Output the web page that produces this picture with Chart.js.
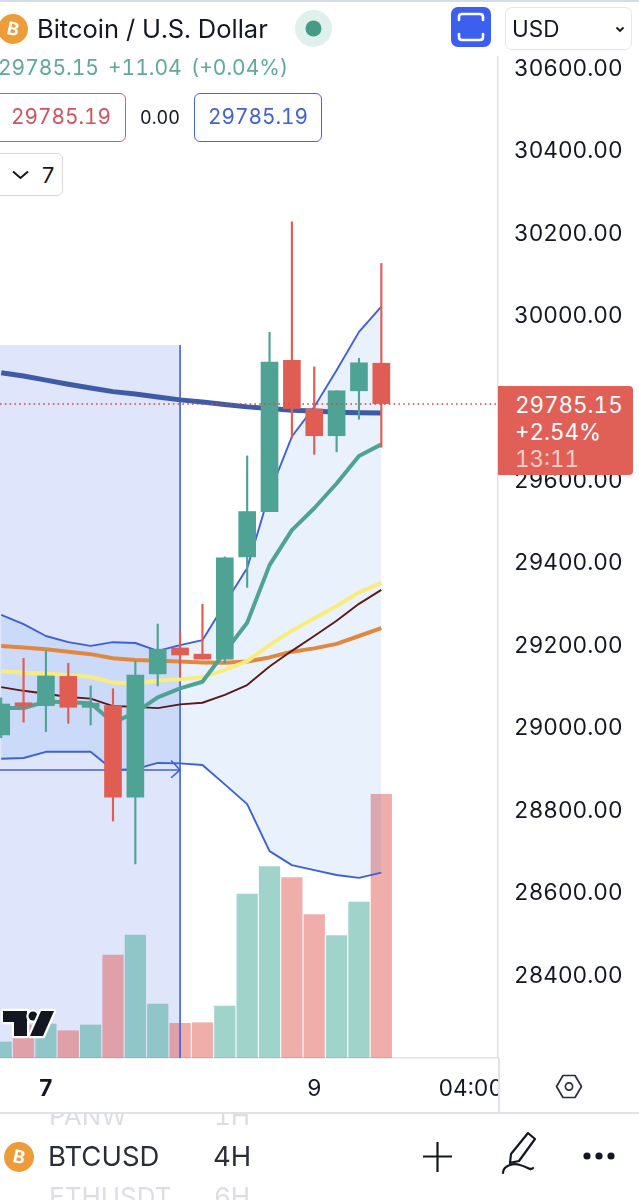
<!DOCTYPE html>
<html>
<head>
<meta charset="utf-8">
<title>BTCUSD</title>
<script src="https://cdn.jsdelivr.net/npm/chart.js@4"></script>
<style>
html, body { margin: 0; padding: 0; background: #fff; }
#wrap { position: relative; width: 639px; height: 1200px; overflow: hidden; font-family: Inter, "Noto Sans", sans-serif; color: #131722; font-variant-numeric: tabular-nums; font-feature-settings: "tnum"; }
#chart { position: absolute; left: 0; top: 0; }
.abs { position: absolute; white-space: nowrap; line-height: 1; }
.box { position: absolute; box-sizing: border-box; border-radius: 6px; background: #fff; }
svg { position: absolute; overflow: visible; }
</style>
</head>
<body>
<div id="wrap">
  <canvas id="chart" width="639" height="1200"></canvas>

  <!-- header -->
  <div class="abs" style="left:0;top:0;width:639px;height:2px;background:#d3dee5"></div>
  <svg style="left:0;top:0" width="30" height="50">
    <circle cx="13" cy="29" r="15" fill="#ee9c39"/>
  </svg>
  <div class="abs" style="left:7px;top:20px;font-size:18px;font-weight:700;color:#fff;transform:rotate(12deg)">B</div>
  <div class="abs" style="left:37px;top:16px;font-size:25.5px;">Bitcoin / U.S. Dollar</div>
  <svg style="left:290px;top:4px" width="50" height="50">
    <ellipse cx="23.5" cy="24.5" rx="18.5" ry="18.5" fill="#e0f0ec"/>
    <circle cx="23.5" cy="24.5" r="8" fill="#459c86"/>
  </svg>
  <div class="box" style="left:451px;top:7px;width:40px;height:40px;background:#3c5ff0;border-radius:7px"></div>
  <svg style="left:451px;top:7px" width="40" height="40" fill="none" stroke="#fff" stroke-width="2.6" stroke-linecap="round">
    <path d="M8 13 V10 Q8 7 11 7 H29 Q32 7 32 10 V13"/>
    <path d="M8 27 V30 Q8 33 11 33 H29 Q32 33 32 30 V27"/>
  </svg>
  <div class="box" style="left:505px;top:7px;width:127px;height:43px;border:1.5px solid #e3e6ea;border-radius:7px"></div>
  <div class="abs" style="left:512px;top:18px;font-size:22.5px;">USD</div>
  <svg style="left:615px;top:26px" width="12" height="8" fill="none" stroke="#131722" stroke-width="1.8">
    <path d="M1.5 1.5 L5 5 L8.5 1.5"/>
  </svg>
  <div class="abs" style="left:-2px;top:57px;font-size:21px;color:#5fa99b;">29785.15</div>
  <div class="abs" style="left:108px;top:57px;font-size:21px;color:#5fa99b;">+11.04</div>
  <div class="abs" style="left:191px;top:57px;font-size:21px;color:#5fa99b;">(+0.04%)</div>

  <div class="box" style="left:-8px;top:93px;width:134px;height:49px;border:1.5px solid #d2606a"></div>
  <div class="abs" style="left:11px;top:107px;font-size:20.8px;color:#cf5460;">29785.19</div>
  <div class="abs" style="left:140px;top:109px;font-size:18px;">0.00</div>
  <div class="box" style="left:194px;top:93px;width:128px;height:49px;border:1.5px solid #4565d6"></div>
  <div class="abs" style="left:208px;top:107px;font-size:20.8px;color:#4262d4;">29785.19</div>
  <div class="box" style="left:-8px;top:153px;width:71px;height:43px;border:1.5px solid #d6d8dc"></div>
  <svg style="left:12px;top:170px" width="18" height="10" fill="none" stroke="#131722" stroke-width="2">
    <path d="M1 1.5 L8.5 8 L16 1.5"/>
  </svg>
  <div class="abs" style="left:41px;top:164px;font-size:22px;">7</div>

  <!-- TradingView mark -->
  <svg style="left:0;top:1005px" width="60" height="36">
    <g fill="#131722" stroke="#fff" stroke-width="4.5" paint-order="stroke" stroke-linejoin="round">
      <path d="M3 6 H27 V31 H14 V17 H3 Z"/>
      <circle cx="33" cy="11" r="4.5"/>
      <path d="M41 6 H54 L43 31 H30 Z"/>
    </g>
  </svg>

  <!-- last price tag -->
  <div class="box" style="left:498px;top:386px;width:135px;height:89px;background:#e05f57;border-radius:0 4px 4px 0"></div>
  <div class="abs" style="left:515px;top:394px;font-size:22.4px;color:#fff;">29785.15</div>
  <div class="abs" style="left:515px;top:421px;font-size:22.4px;color:#fff;">+2.54%</div>
  <div class="abs" style="left:515px;top:448px;font-size:22.4px;color:#f8cfca;">13:11</div>

  <!-- lower right corner of the axes -->
  <div class="abs" style="left:499px;top:1060px;width:140px;height:52px;background:#fff"></div>
  <div class="abs" style="left:498px;top:1058px;width:1.5px;height:54px;background:#dfe2e6"></div>
  <svg style="left:555px;top:1072px" width="28" height="30" fill="none" stroke="#2a2e39" stroke-width="1.7">
    <path d="M1.5 14.5 L8 3.5 H20 L26.5 14.5 L20 25.5 H8 Z" stroke-linejoin="round"/>
    <circle cx="14" cy="14.5" r="3.6"/>
  </svg>

  <!-- footer -->
  <div class="abs" style="left:0;top:1112px;width:639px;height:1.5px;background:#dfe2e6"></div>
  <div class="abs" style="left:0;top:1113.5px;width:639px;height:86.5px;overflow:hidden">
    <div class="abs" style="left:49px;top:-11px;font-size:26px;color:#dcdee3;">PANW</div>
    <div class="abs" style="left:214px;top:-11px;font-size:26px;color:#dcdee3;">1H</div>
    <div class="abs" style="left:49px;top:70px;font-size:26px;color:#dcdee3;">ETHUSDT</div>
    <div class="abs" style="left:214px;top:70px;font-size:26px;color:#dcdee3;">6H</div>
    <svg style="left:0;top:0" width="40" height="80">
      <circle cx="19" cy="43" r="15" fill="#ee9c39"/>
    </svg>
    <div class="abs" style="left:13px;top:34px;font-size:18px;font-weight:700;color:#fff;transform:rotate(12deg)">B</div>
    <div class="abs" style="left:48px;top:29px;font-size:27.5px;color:#2a2e39;">BTCUSD</div>
    <div class="abs" style="left:213px;top:29px;font-size:27.5px;color:#2a2e39;">4H</div>
    <svg style="left:420px;top:25px" width="36" height="36" fill="none" stroke="#131722" stroke-width="2.2">
      <path d="M17.5 3 V33 M3 17.5 H32"/>
    </svg>
    <svg style="left:500px;top:17px" width="40" height="50" fill="none" stroke="#131722" stroke-width="2.2" stroke-linejoin="round" stroke-linecap="round">
      <path d="M28 2 L35 8 L19 30 L10 32 L11 23 Z"/>
      <path d="M3 42 C3 34 14 32 20 34 C28 36 30 40 33 37"/>
    </svg>
    <svg style="left:582px;top:35px" width="36" height="14" fill="#131722">
      <circle cx="5" cy="7" r="3.6"/><circle cx="17" cy="7" r="3.6"/><circle cx="29" cy="7" r="3.6"/>
    </svg>
  </div>
</div>

<script>
// --------------------------------------
// Data (4H BTCUSD)
// --------------------------------------
const barIndex = [0, 1, 2, 3, 4, 5, 6, 7, 8, 9, 10, 11, 12, 13, 14, 15, 16, 17];
const opens  = [28982, 29060, 29053, 29124, 29049, 29053, 28831, 29130, 29193, 29178, 29166, 29414, 29524, 29891, 29773, 29708, 29817, 29884];
const closes = [29057, 29052, 29125, 29049, 29059, 28831, 29127, 29190, 29176, 29166, 29412, 29524, 29887, 29774, 29708, 29817, 29885, 29786];
const highs  = [29072, 29168, 29186, 29156, 29101, 29094, 29160, 29251, 29232, 29299, 29414, 29659, 29959, 30227, 29875, 29817, 29896, 30126];
const lows   = [28975, 29013, 28990, 29010, 29006, 28773, 28669, 29101, 29122, 29166, 29156, 29340, 29524, 29702, 29663, 29669, 29748, 29680];
const volumes = [160, 330, 340, 273, 330, 1030, 1230, 540, 347, 353, 520, 1640, 1913, 1803, 1433, 1223, 1560, 2637];

const upperBand = [29273, 29251, 29222, 29207, 29198, 29207, 29205, 29186, 29200, 29212, 29300, 29387, 29569, 29706, 29778, 29867, 29960, 30021];
const lowerBand = [28924, 28926, 28941, 28941, 28941, 28897, 28899, 28914, 28913, 28909, 28862, 28814, 28700, 28666, 28654, 28642, 28635, 28648];
const greenMa   = [29047, 29047, 29063, 29061, 29059, 29012, 29036, 29073, 29095, 29111, 29183, 29254, 29394, 29479, 29532, 29592, 29659, 29687];
const yellowMa  = [29137, 29133, 29131, 29127, 29123, 29109, 29107, 29114, 29117, 29122, 29140, 29161, 29200, 29235, 29265, 29295, 29328, 29351];
const orangeMa  = [29198, 29194, 29190, 29184, 29178, 29168, 29164, 29162, 29160, 29158, 29157, 29160, 29170, 29184, 29192, 29203, 29222, 29241];
const maroonMa  = [29098, 29089, 29082, 29074, 29070, 29052, 29050, 29047, 29056, 29060, 29079, 29103, 29148, 29186, 29222, 29259, 29300, 29334];
const navyMa    = [29861, 29853, 29843, 29833, 29824, 29815, 29809, 29802, 29795, 29790, 29784, 29778, 29774, 29770, 29768, 29765, 29764, 29763];

const lastPrice = 29785.15;
const priceTicks = [28400, 28600, 28800, 29000, 29200, 29400, 29600, 29800, 30000, 30200, 30400, 30600];
const timeTickValues = [2, 14, 21];
const timeTickLabels = ["7", "9", "04:00"];

// date range drawing: bars 0..8, top price, arrow price
const rangeEnd = 8;
const rangeTop = 29928;
const rangeArrow = 28897;
const arrowHeadX = [7.6, 8, 7.6];
const arrowHeadY = [28920, 28897, 28878];

const xMin = -0.054, xMax = 22.218;
const yMin = 28198, yMax = 30627;
const volumeMax = 10010;

const GREEN = "#4fa395", RED = "#e05d54", BLUE = "#3f5fd8";

// --------------------------------------
// Helpers
// --------------------------------------
function series(values) {
    return values.map((v, i) => ({ x: barIndex[i], y: v }));
}

function candleColors() {
    return closes.map((c, i) => (c >= opens[i] ? GREEN : RED));
}

function lineSet(values, color, width, order, extra) {
    return Object.assign({
        type: "line", data: series(values), borderColor: color, borderWidth: width,
        pointRadius: 0, tension: 0, fill: false, order: order, yAxisID: "y",
        borderJoinStyle: "round", borderCapStyle: "butt"
    }, extra || {});
}

// --------------------------------------
// Chart
// --------------------------------------
const datasets = [
    // bollinger fill needs the lower band right after the upper one
    lineSet(upperBand, BLUE, 1.9, 9, { fill: "+1", backgroundColor: "rgba(33,120,230,0.1)" }),
    lineSet(lowerBand, BLUE, 1.9, 9),
    lineSet(navyMa, "#3d5ba6", 5, 8),
    lineSet(orangeMa, "#e0883f", 4, 7),
    lineSet(maroonMa, "#5a1a1a", 1.9, 6),
    lineSet(yellowMa, "#f9ec7e", 4, 5),
    lineSet(greenMa, "#4fa395", 4, 4),
    {
        type: "bar", data: series(volumes), yAxisID: "y1", order: 12, barThickness: 20.6,
        backgroundColor: closes.map((c, i) => (c >= opens[i] ? "rgba(66,168,150,0.5)" : "rgba(224,85,80,0.48)"))
    },
    {
        type: "line", order: 20, yAxisID: "y", pointRadius: 0, borderWidth: 0,
        data: [{ x: xMin, y: rangeTop }, { x: rangeEnd, y: rangeTop }],
        fill: { target: { value: yMin } }, backgroundColor: "rgba(55,95,230,0.16)"
    },
    {
        type: "line", order: 10, yAxisID: "y", pointRadius: 0, borderWidth: 1.6, borderColor: BLUE,
        data: [{ x: rangeEnd, y: yMin }, { x: rangeEnd, y: rangeTop }]
    },
    {
        type: "line", order: 10, yAxisID: "y", pointRadius: 0, borderWidth: 1.6, borderColor: BLUE,
        data: [{ x: xMin, y: rangeArrow }, { x: rangeEnd, y: rangeArrow }]
    },
    {
        type: "line", order: 10, yAxisID: "y", pointRadius: 0, borderWidth: 1.6, borderColor: BLUE,
        data: arrowHeadX.map((x, i) => ({ x: x, y: arrowHeadY[i] }))
    },
    {
        type: "bar", order: 3, yAxisID: "y", barThickness: 1.5, backgroundColor: candleColors(),
        data: barIndex.map((x, i) => ({ x: x, y: [lows[i], highs[i]] }))
    },
    {
        type: "bar", order: 2, yAxisID: "y", barThickness: 17, backgroundColor: candleColors(),
        data: barIndex.map((x, i) => ({ x: x, y: [opens[i], closes[i]] }))
    },
    {
        type: "line", order: 1, yAxisID: "y", pointRadius: 0, borderWidth: 1.5, borderColor: "#d9463f",
        borderDash: [1.6, 3.2],
        data: [{ x: xMin, y: lastPrice }, { x: xMax, y: lastPrice }]
    }
];

new Chart(document.getElementById("chart").getContext("2d"), {
    type: "bar",
    data: { datasets: datasets },
    options: {
        responsive: false,
        animation: false,
        events: [],
        layout: { padding: { left: 0, right: 0, top: 57, bottom: 88 } },
        plugins: { legend: { display: false }, tooltip: { enabled: false }, title: { display: false } },
        datasets: { bar: { grouped: false, borderWidth: 0 } },
        scales: {
            x: {
                type: "linear", min: xMin, max: xMax, offset: false, position: "bottom",
                grid: { display: false, drawTicks: false },
                border: { display: true, color: "#e0e3e8", width: 1.5 },
                afterBuildTicks(scale) { scale.ticks = timeTickValues.map(v => ({ value: v })); },
                afterFit(scale) { scale.height = 54; },
                ticks: {
                    autoSkip: false, maxRotation: 0, padding: 18, color: "#131722",
                    font: ctx => ({ family: "Inter", size: 22.6, weight: ctx.tick && ctx.tick.value === 2 ? "700" : "400" }),
                    callback: v => timeTickLabels[timeTickValues.indexOf(v)]
                }
            },
            y: {
                type: "linear", min: yMin, max: yMax, position: "right",
                grid: { display: false, drawTicks: false },
                border: { display: true, color: "#dfe2e6", width: 1.5 },
                afterBuildTicks(scale) { scale.ticks = priceTicks.map(v => ({ value: v })); },
                afterFit(scale) { scale.width = 141; },
                ticks: {
                    autoSkip: false, padding: 16, color: "#131722", labelOffset: 1,
                    font: { family: "Inter", size: 22.6 },
                    callback: v => v.toFixed(2)
                }
            },
            y1: { type: "linear", display: false, min: 0, max: volumeMax, position: "right" }
        }
    }
});
</script>
</body>
</html>
